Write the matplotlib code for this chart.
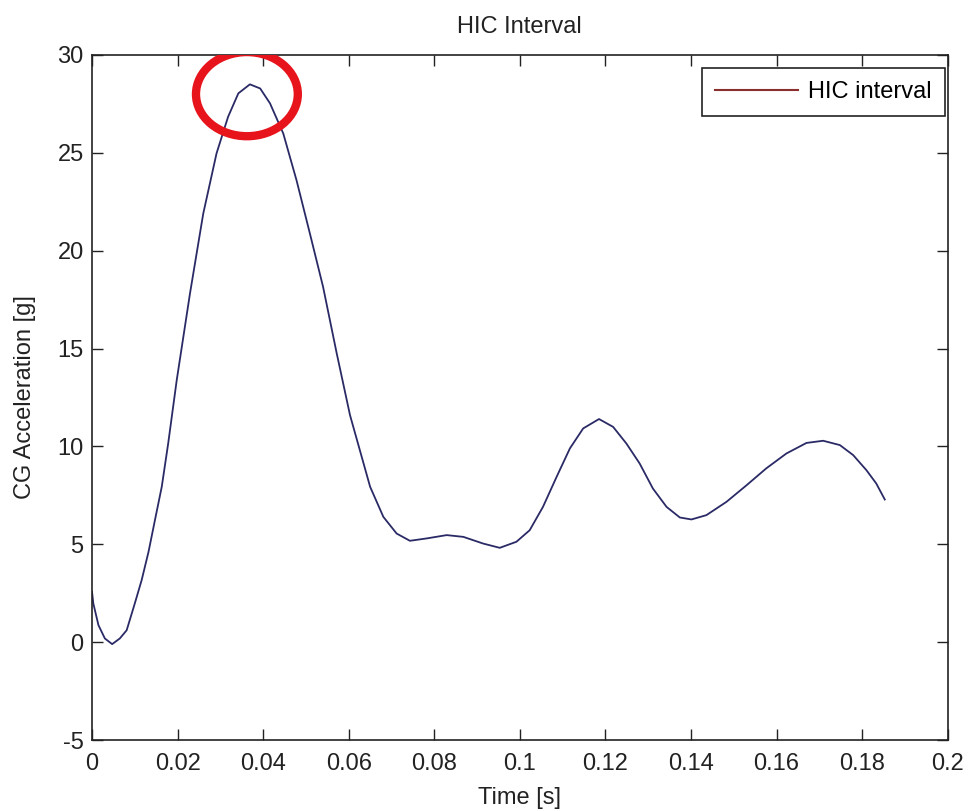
import matplotlib
matplotlib.use("Agg")
import matplotlib.pyplot as plt
from matplotlib.patches import Ellipse
from matplotlib.lines import Line2D

# acceleration trace
time_s = [0.0000, 0.0003, 0.0015, 0.0030, 0.0047, 0.0065, 0.0081, 0.0100,
          0.0116, 0.0132, 0.0147, 0.0163, 0.0178, 0.0198, 0.0229, 0.0260,
          0.0291, 0.0318, 0.0342, 0.0369, 0.0393, 0.0416, 0.0447, 0.0478,
          0.0509, 0.0540, 0.0572, 0.0603, 0.0626, 0.0650, 0.0681, 0.0712,
          0.0743, 0.0782, 0.0829, 0.0868, 0.0914, 0.0953, 0.0992, 0.1023,
          0.1054, 0.1086, 0.1117, 0.1148, 0.1185, 0.1218, 0.1249, 0.1280,
          0.1311, 0.1343, 0.1374, 0.1401, 0.1436, 0.1483, 0.1530, 0.1576,
          0.1623, 0.1670, 0.1709, 0.1748, 0.1779, 0.1810, 0.1833, 0.1853]
accel_g = [2.57, 1.98, 0.87, 0.19, -0.10, 0.19, 0.61, 1.98,
           3.17, 4.61, 6.23, 7.94, 10.15, 13.39, 17.82, 21.90,
           24.97, 26.84, 28.04, 28.50, 28.29, 27.53, 25.99, 23.60,
           20.90, 18.16, 14.75, 11.60, 9.81, 7.94, 6.40, 5.55,
           5.18, 5.30, 5.47, 5.38, 5.04, 4.82, 5.13, 5.72,
           6.91, 8.45, 9.90, 10.92, 11.40, 11.00, 10.15, 9.13,
           7.85, 6.91, 6.37, 6.27, 6.49, 7.17, 8.02, 8.88,
           9.64, 10.18, 10.29, 10.07, 9.56, 8.79, 8.11, 7.29]

xticks = [0, 0.02, 0.04, 0.06, 0.08, 0.1, 0.12, 0.14, 0.16, 0.18, 0.2]
xtick_labels = ["0", "0.02", "0.04", "0.06", "0.08", "0.1", "0.12",
                "0.14", "0.16", "0.18", "0.2"]
yticks = [-5, 0, 5, 10, 15, 20, 25, 30]

peak_center = (0.0362, 28.0)

plt.rcParams["font.family"] = ["Liberation Sans", "DejaVu Sans"]
plt.rcParams["axes.unicode_minus"] = False

fig = plt.figure(figsize=(9.79, 8.11), dpi=100)
ax = fig.add_axes([0.094, 0.0875, 0.874, 0.8447])

ax.plot(time_s, accel_g, color="#2a2a66", lw=1.3)

# the red marker round the peak
ax.add_patch(Ellipse(peak_center, 0.0238, 4.3, fill=False,
                     edgecolor="#e8141c", lw=6, zorder=5))

ax.set_xlim(0, 0.2)
ax.set_ylim(-5, 30)
ax.set_xticks(xticks)
ax.set_xticklabels(xtick_labels)
ax.set_yticks(yticks)
ax.tick_params(direction="in", top=True, right=True, length=8,
               labelsize=17, pad=6, width=1, colors="#222222")
ax.tick_params(axis="x", pad=9)
for s in ax.spines.values():
    s.set_linewidth(1.2)
    s.set_color("#222222")

ax.set_xlabel("Time [s]", fontsize=17, color="#222222")
ax.xaxis.set_label_coords(0.5, -0.068)
ax.set_ylabel("CG Acceleration [g]", fontsize=17, color="#222222")
ax.yaxis.set_label_coords(-0.066, 0.5)
ax.set_title("HIC Interval", fontsize=17, pad=16, color="#222222")

handle = Line2D([], [], color="#8b2e2e", lw=1.5)
leg = ax.legend([handle], ["HIC interval"], loc="upper right",
                bbox_to_anchor=(0.997, 0.981), borderaxespad=0,
                fontsize=17, fancybox=False, edgecolor="#222222",
                framealpha=1, handlelength=3.5, handletextpad=0.45,
                borderpad=0.55)
leg.get_frame().set_linewidth(1.2)

fig.savefig("out.png", dpi=100)
